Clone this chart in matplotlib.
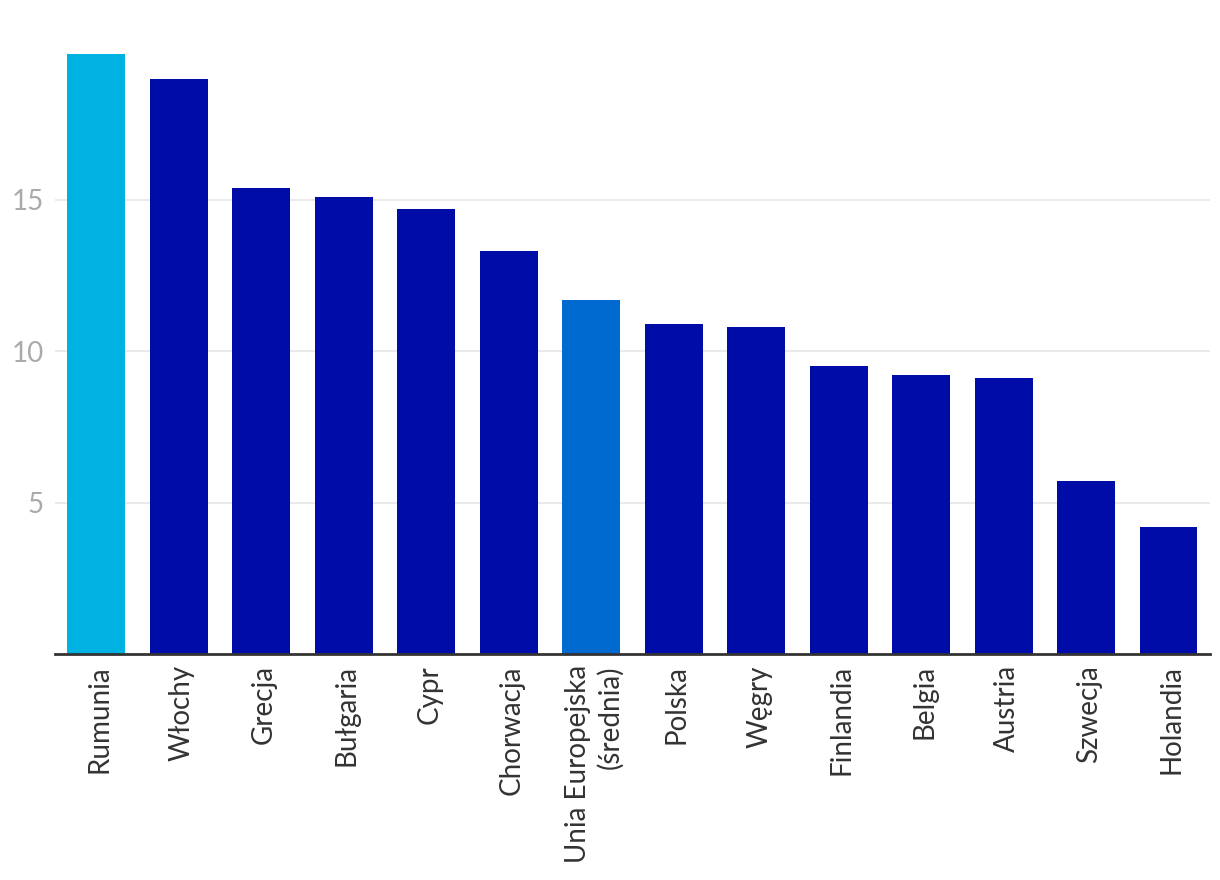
import matplotlib.pyplot as plt
from matplotlib.transforms import ScaledTranslation

countries = ["Rumunia", "Włochy", "Grecja", "Bułgaria", "Cypr", "Chorwacja",
             "Unia Europejska\n(średnia)", "Polska", "Węgry", "Finlandia",
             "Belgia", "Austria", "Szwecja", "Holandia"]
values = [19.8, 19.0, 15.4, 15.1, 14.7, 13.3, 11.7, 10.9, 10.8, 9.5, 9.2, 9.1, 5.7, 4.2]
colors = ["#00b2e2"] + ["#000ca8"] * 5 + ["#006ad1"] + ["#000ca8"] * 7

plt.rcParams['font.family'] = ['Lato', 'DejaVu Sans']

fig = plt.figure(figsize=(12.2, 8.8), dpi=100)
ax = fig.add_axes([0.045, 0.2568, 0.9467, 0.7227])

ax.bar(range(len(values)), values, width=0.7, color=colors, zorder=3)
ax.set_xlim(-0.5, len(values) - 0.5)
ax.set_ylim(0, 21)
ax.set_yticks([5, 10, 15])
ax.yaxis.grid(True, color="#e6e6e6", linewidth=1.2, zorder=0)

ax.set_xticks(range(len(values)))
ax.set_xticklabels(countries, rotation=90, fontsize=20, color="#333333",
                   multialignment="right", linespacing=1.25)
ax.tick_params(axis='y', labelsize=20, labelcolor="#aaaaaa", length=0, pad=8)
ax.tick_params(axis='x', length=0, pad=8)

# nudge x labels a bit to the right
shift = ScaledTranslation(3 / 100, 0, fig.dpi_scale_trans)
for lbl in ax.get_xticklabels():
    lbl.set_transform(lbl.get_transform() + shift)

for s in ["top", "right", "left"]:
    ax.spines[s].set_visible(False)
ax.spines["bottom"].set_color("#333333")
ax.spines["bottom"].set_linewidth(2)
ax.spines["bottom"].set_zorder(4)

fig.savefig("out.png", dpi=100)
